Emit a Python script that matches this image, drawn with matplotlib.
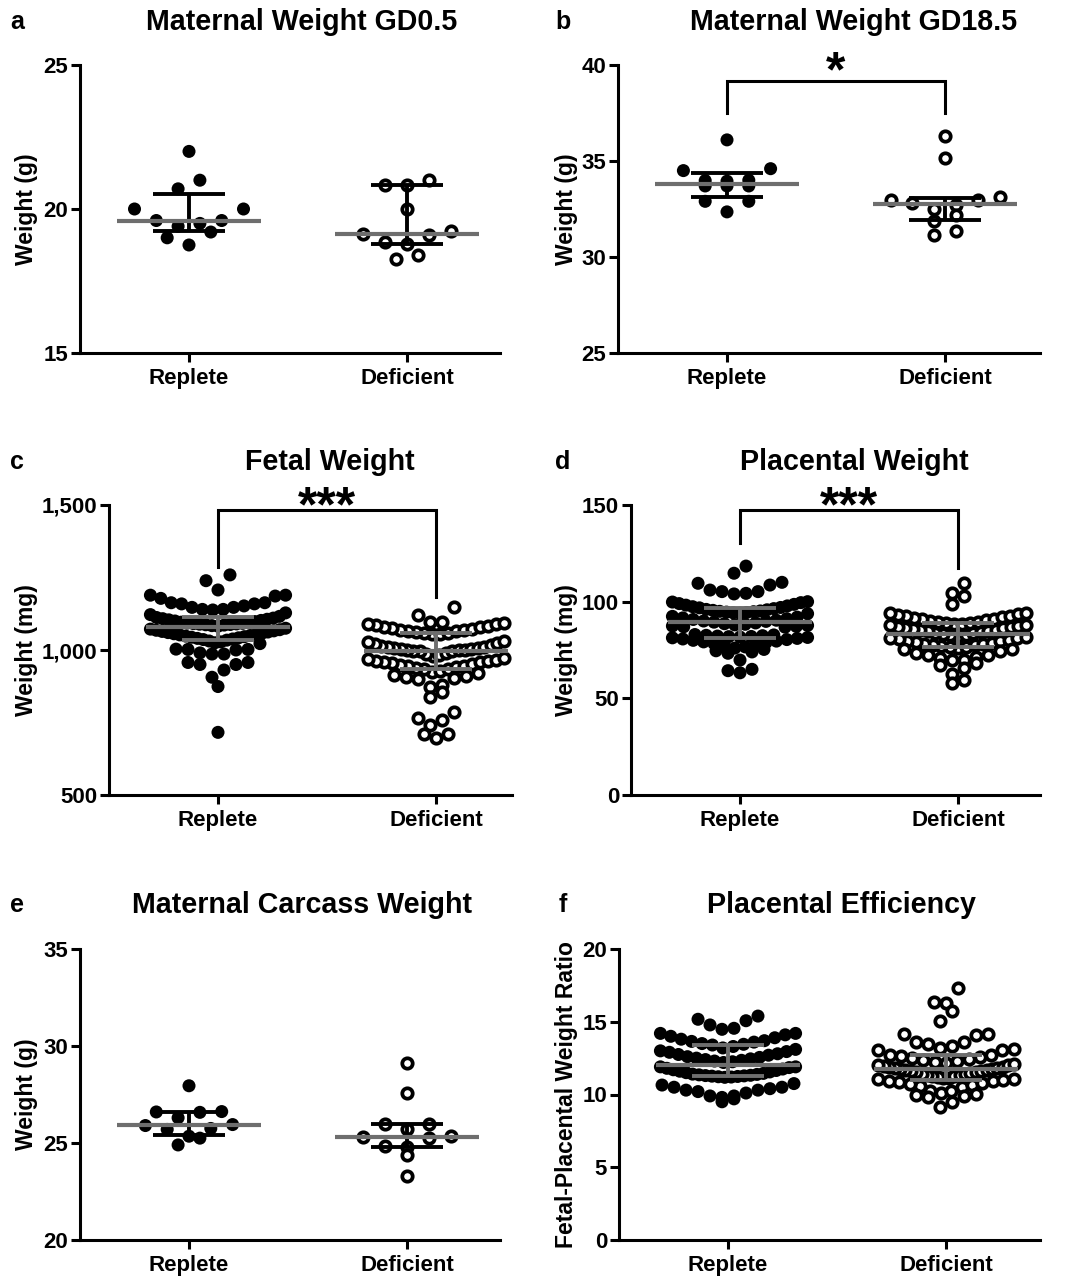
import numpy as np
import matplotlib
matplotlib.use("Agg")
import matplotlib.pyplot as plt
from matplotlib.ticker import FuncFormatter

# ---------------- data ----------------
groups = ["Replete", "Deficient"]

# a: Maternal Weight GD0.5 (g)
gd05_replete = [22.0, 21.0, 20.7, 20.0, 20.0, 19.6, 19.5, 19.6, 19.4, 19.2, 19.0, 18.75]
gd05_deficient = [21.0, 20.85, 20.85, 20.0, 19.25, 19.12, 19.1, 18.85, 18.8, 18.4, 18.25]

# b: Maternal Weight GD18.5 (g)
gd185_replete = [36.1, 34.6, 34.5, 34.0, 33.95, 33.98, 33.7, 33.7, 33.7, 32.9, 32.9, 32.35]
gd185_deficient = [36.3, 35.15, 33.1, 32.97, 32.97, 32.8, 32.7, 32.48, 32.2, 31.85, 31.35, 31.15]

# c: Fetal Weight (mg)
fetal_replete = [1259, 1239, 1207,
                 1189, 1189, 1186, 1178, 1163, 1163, 1159, 1159, 1152, 1147, 1147, 1140, 1140, 1138,
                 1128, 1122, 1116, 1112, 1110, 1108, 1106, 1104, 1102, 1100, 1098, 1096, 1094, 1093,
                 1092, 1091, 1090, 1089, 1088, 1087, 1086, 1084, 1082,
                 1075, 1072, 1070, 1068, 1066, 1064, 1062, 1060, 1058, 1056, 1054, 1052, 1050, 1048,
                 1046, 1044, 1042, 1040, 1038, 1036, 1034, 1031, 1028, 1025, 1022,
                 1003, 1002, 1002, 1000, 990, 986, 986, 957, 957, 950, 950,
                 931, 906, 874, 716]
fetal_deficient = [1147, 1121, 1095, 1095,
                   1092, 1090, 1088, 1085, 1083, 1080, 1078, 1075, 1073, 1070, 1068, 1066, 1064, 1062,
                   1060, 1058, 1056, 1054,
                   1030, 1027, 1024, 1021, 1018, 1015, 1012, 1010, 1008, 1006, 1004, 1002, 1001, 1000,
                   999, 998, 997, 996,
                   990, 986, 982, 978, 974, 970, 966, 962, 958, 955, 950, 946,
                   962, 958, 952, 946, 940, 937, 935, 933, 929, 925, 920, 915, 910, 906, 902, 899,
                   879, 871, 856, 839,
                   787, 767, 759, 741, 710, 709, 695]

# d: Placental Weight (mg)
plac_replete = [118.4, 114.7,
                110.0, 109.5, 108.6, 106.0, 105.2, 105.2, 104.3, 104.0,
                100.0, 99.8, 99.5, 99.0, 98.6, 98.2, 97.8, 97.4, 97.0, 96.8, 96.4, 96.0, 95.8, 95.5,
                95.2, 95.0, 94.8, 94.6, 94.4, 94.2, 94.0, 93.8,
                92.4, 92.0, 91.6, 91.2, 90.8, 90.4, 90.0, 89.8, 89.4, 89.0, 88.6, 88.3, 88.0, 87.7,
                87.4, 87.2, 87.0, 86.8,
                83.0, 82.8, 82.6, 82.4, 82.2, 82.0, 81.9, 81.7, 81.5, 81.3, 81.0, 80.7, 80.4, 80.0,
                79.6, 79.2, 78.8, 78.3, 77.8, 77.2, 76.6, 76.0, 75.3, 74.6, 74.0, 73.3,
                69.8, 65.0, 64.3, 63.2]
plac_deficient = [109.5, 104.6, 102.9, 98.6,
                  94.3, 94.0, 93.6, 93.2, 92.8, 92.4, 92.0, 91.6, 91.2, 90.8, 90.4, 90.0, 89.6, 89.3,
                  89.0, 88.9,
                  88.6, 88.3, 88.0, 87.7, 87.4, 87.1, 86.8, 86.5, 86.2, 85.9, 85.6, 85.3, 85.0, 84.7,
                  84.4, 84.0, 83.6, 83.3,
                  83.0, 82.6, 82.2, 81.8, 81.4, 81.0, 80.6, 80.2, 79.8, 79.4, 79.0, 78.6, 78.3, 78.0,
                  77.7, 77.4, 77.1, 76.8, 76.5, 76.2,
                  75.5, 75.5, 74.5, 73.5, 72.6, 72.6, 71.4, 70.9, 69.7, 69.7, 68.3, 67.1,
                  65.5, 62.6, 59.5, 57.8]

# e: Maternal Carcass Weight (g)
carcass_replete = [27.95, 26.62, 26.6, 26.58, 26.3, 25.95, 25.9, 25.75, 25.7, 25.35, 25.25, 24.9]
carcass_deficient = [29.1, 27.6, 26.0, 26.0, 25.7, 25.35, 25.3, 25.25, 24.85, 24.8, 24.4, 23.3]

# f: Placental Efficiency (ratio)
eff_replete = [15.39, 15.17, 15.07, 14.78, 14.55, 14.48,
               14.2, 14.2, 14.1, 14.0, 13.9, 13.8, 13.7, 13.65, 13.6, 13.5, 13.45, 13.4, 13.3, 13.2,
               13.1, 13.0, 12.95, 12.9, 12.8, 12.75, 12.7, 12.6, 12.55, 12.5, 12.45, 12.4, 12.35,
               12.3, 12.25, 12.2,
               11.9, 11.9, 11.85, 11.8, 11.75, 11.7, 11.65, 11.6, 11.55, 11.5, 11.45, 11.4, 11.38,
               11.35, 11.32, 11.3, 11.28, 11.26, 11.24, 11.22, 11.2, 11.18,
               10.75, 10.65, 10.5, 10.5, 10.4, 10.3, 10.3, 10.2, 10.1, 9.9, 9.9, 9.8, 9.7, 9.5]
eff_deficient = [17.3, 16.35, 16.3, 15.76, 15.07, 14.16, 14.16, 14.09,
                 13.63, 13.63, 13.5, 13.33, 13.2, 13.13, 13.06, 13.06,
                 12.71, 12.71, 12.62, 12.55, 12.48, 12.42, 12.36, 12.3, 12.24, 12.18, 12.12, 12.06,
                 12.0, 11.96, 11.92, 11.88, 11.84, 11.8, 11.77, 11.75,
                 11.71, 11.68, 11.64, 11.6, 11.56, 11.52, 11.48, 11.44, 11.4, 11.36, 11.32, 11.28,
                 11.24, 11.2, 11.16, 11.12, 11.08, 11.05, 11.0, 10.95, 10.9, 10.85, 10.8, 10.75,
                 10.68, 10.6, 10.54,
                 10.26, 10.24, 10.12, 10.03, 9.96, 9.9, 9.8, 9.5, 9.12]

titles = ["Maternal Weight GD0.5", "Maternal Weight GD18.5", "Fetal Weight",
          "Placental Weight", "Maternal Carcass Weight", "Placental Efficiency"]
letters = ["a", "b", "c", "d", "e", "f"]
ylabels = ["Weight (g)", "Weight (g)", "Weight (mg)", "Weight (mg)", "Weight (g)",
           "Fetal-Placental Weight Ratio"]
yticks_list = [[15, 20, 25], [25, 30, 35, 40], [500, 1000, 1500], [0, 50, 100, 150],
               [20, 25, 30, 35], [0, 5, 10, 15, 20]]
sig_labels = {1: "*", 2: "***", 3: "***"}
sig_levels = {1: (39.18, 37.48, 37.48), 2: (1483, 1287, 1182), 3: (147.4, 130.5, 117.3)}

# ---------------- layout ----------------
W, H = 1073, 1276
fig = plt.figure(figsize=(W / 100, H / 100), dpi=100)
plt.rcParams['font.family'] = ['Liberation Sans', 'DejaVu Sans']
plt.rcParams['font.weight'] = 'bold'

PXU = 218.0  # pixels per category unit
GRAY = '#6e6e6e'


def add_ax(l, r, t, b):
    return fig.add_axes([l / W, 1 - b / H, (r - l) / W, (b - t) / H])


def rows_layout(values, bw, step, maxhalf):
    v = np.sort(np.asarray(values, dtype=float))[::-1]
    xs, ys = [], []
    i = 0
    while i < len(v):
        start = v[i]
        j = i
        while j < len(v) and v[j] >= start - bw:
            j += 1
        row = np.sort(v[i:j])
        n = len(row)
        s = step if n <= 1 else min(step, 2 * maxhalf / (n - 1))
        offs = (np.arange(n) - (n - 1) / 2) * s
        order = np.argsort(np.abs(offs), kind='stable')
        xs.extend(offs[order])
        ys.extend(row)
        i = j
    return np.array(xs), np.array(ys)


panels = [
    dict(data=(gd05_replete, gd05_deficient), box=(80, 500, 65, 353), ylim=(15, 25),
         bw=0.6, step=0.1, maxhalf=0.3, dense=False, tx=302, ty=22, lx=17, ly=22, ylx=27),
    dict(data=(gd185_replete, gd185_deficient), box=(618, 1040, 65, 353), ylim=(25, 40),
         bw=0.75, step=0.1, maxhalf=0.3, dense=False, tx=854, ty=22, lx=563, ly=22, ylx=566),
    dict(data=(fetal_replete, fetal_deficient), box=(109, 512, 505, 795), ylim=(500, 1500),
         bw=52, step=0.055, maxhalf=0.31, dense=True, tx=330, ty=462, lx=17, ly=462, ylx=27),
    dict(data=(plac_replete, plac_deficient), box=(631, 1040, 505, 795), ylim=(0, 150),
         bw=6, step=0.055, maxhalf=0.31, dense=True, tx=854, ty=462, lx=563, ly=462, ylx=566),
    dict(data=(carcass_replete, carcass_deficient), box=(80, 500, 949, 1240), ylim=(20, 35),
         bw=0.6, step=0.1, maxhalf=0.3, dense=False, tx=302, ty=905, lx=17, ly=905, ylx=27),
    dict(data=(eff_replete, eff_deficient), box=(619, 1040, 949, 1240), ylim=(0, 20),
         bw=1.0, step=0.055, maxhalf=0.31, dense=True, tx=841, ty=905, lx=563, ly=905, ylx=566),
]

for k, p in enumerate(panels):
    l, r, t, b = p['box']
    ax = add_ax(l, r, t, b)
    ax.set_xlim(-0.5, -0.5 + (r - l) / PXU)
    ax.set_ylim(*p['ylim'])
    ax.set_yticks(yticks_list[k])
    if k == 2:
        ax.yaxis.set_major_formatter(FuncFormatter(lambda v, pos: f"{v:,.0f}"))
    ax.set_xticks([0, 1])
    ax.set_xticklabels(groups)
    for sp in ['top', 'right']:
        ax.spines[sp].set_visible(False)
    for sp in ['left', 'bottom']:
        ax.spines[sp].set_linewidth(2.2)
    ax.tick_params(axis='both', direction='out', length=6.5, width=2.2, labelsize=16, pad=2)
    ax.tick_params(axis='x', pad=4)

    barc = GRAY if p['dense'] else 'black'
    for i, vals in enumerate(p['data']):
        xs, ys = rows_layout(vals, p['bw'], p['step'], p['maxhalf'])
        if i == 0:
            ax.scatter(i + xs, ys, s=88, c='black', edgecolors='none', zorder=3, clip_on=False)
        else:
            ax.scatter(i + xs, ys, s=56, facecolors='white', edgecolors='black',
                       linewidths=2.7, zorder=3, clip_on=False)
        med = np.median(vals)
        q1, q3 = np.percentile(vals, [25, 75], method='weibull')
        ax.plot([i, i], [q1, q3], color=barc, lw=2.8, zorder=4, solid_capstyle='butt')
        for q in (q1, q3):
            ax.plot([i - 0.165, i + 0.165], [q, q], color=barc, lw=2.8, zorder=4,
                    solid_capstyle='butt')
        ax.plot([i - 0.33, i + 0.33], [med, med], color=GRAY, lw=3.0, zorder=5,
                solid_capstyle='butt')

    if k in sig_levels:
        yb, ld, rd = sig_levels[k]
        ax.plot([0, 0, 1, 1], [ld, yb, yb, rd], color='black', lw=2.2, clip_on=False,
                solid_joinstyle='miter', zorder=6)
        xc_px = l + PXU
        base_px = 86 if k == 1 else 521
        fig.text(xc_px / W, 1 - base_px / H, sig_labels[k],
                 ha='center', va='baseline', fontsize=36, fontweight='bold')

    fig.text(p['tx'] / W, 1 - p['ty'] / H, titles[k], ha='center', va='center',
             fontsize=20.6, fontweight='bold')
    fig.text(p['lx'] / W, 1 - p['ly'] / H, letters[k], ha='center', va='center',
             fontsize=18, fontweight='bold')
    fig.text(p['ylx'] / W, 1 - ((t + b) / 2) / H, ylabels[k], ha='center', va='center',
             rotation=90, fontsize=16.5, fontweight='bold')

fig.savefig("out.png", dpi=100)
